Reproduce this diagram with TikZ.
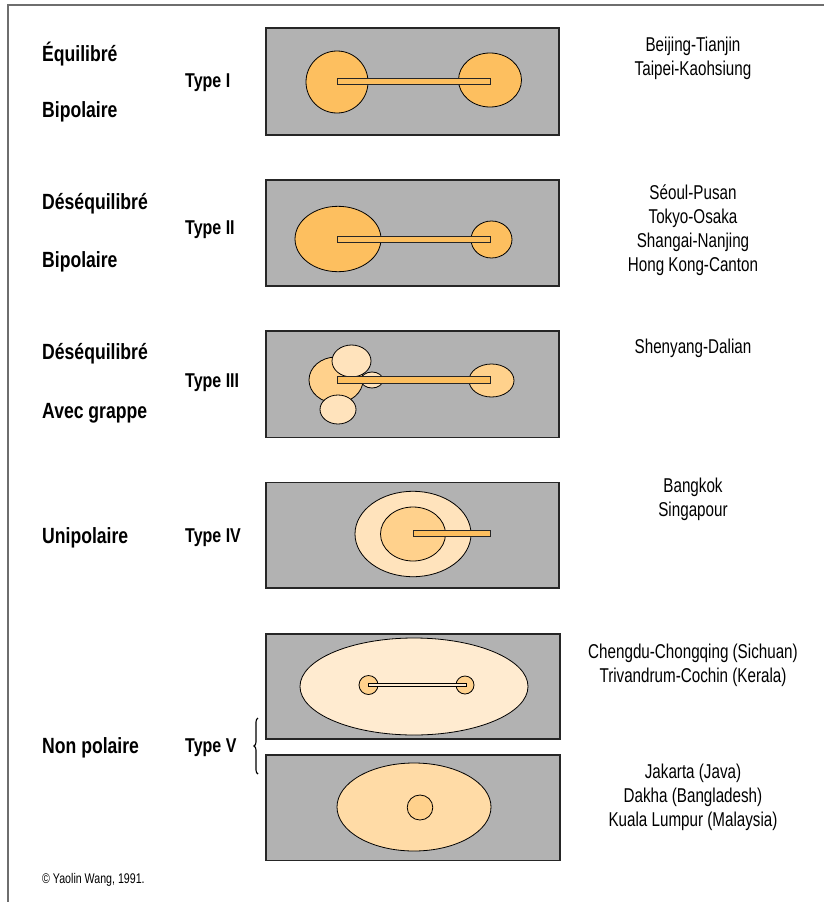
\documentclass[tikz,border=0pt]{standalone}
\usepackage{fontspec}
\setmainfont{Liberation Sans}[FakeStretch=0.76, BoldFeatures={FakeStretch=0.8}]
\usetikzlibrary{decorations.pathreplacing}
\definecolor{panelgray}{HTML}{B2B2B2}
\definecolor{orangeA}{HTML}{FDBF5F}
\definecolor{orangeB}{HTML}{FFD18C}
\definecolor{orangeC}{HTML}{FFE3BC}
\definecolor{orangeD}{HTML}{FFEBD0}
\definecolor{orangeE}{HTML}{FFDBA6}
\definecolor{framegray}{HTML}{6E6E6E}
\tikzset{
  panel/.style={draw=black!85, line width=1.1pt, fill=panelgray},
  blob/.style={draw=black, line width=0.8pt},
  barbox/.style={draw=black!85, line width=0.9pt, fill=orangeA},
  lbl/.style={font=\bfseries\fontsize{22}{24}\selectfont, anchor=base west, inner sep=0pt},
  typelbl/.style={font=\bfseries\fontsize{20}{22}\selectfont, anchor=base west, inner sep=0pt},
  city/.style={font=\fontsize{20}{22}\selectfont, anchor=base, inner sep=0pt},
}
\begin{document}
\begin{tikzpicture}[x=1pt,y=-1pt]
\useasboundingbox (0,0) rectangle (824,902);
\fill[white] (0,0) rectangle (824,902);
% frame
\draw[framegray, line width=1.3pt] (824,5) -- (8,5) -- (8,902);

% ---------- Type I
\draw[panel] (266,28) rectangle (559,135);
\draw[blob, fill=orangeA] (337,82) ellipse [x radius=31pt, y radius=31pt];
\draw[blob, fill=orangeA] (490,80) ellipse [x radius=31.5pt, y radius=27pt];
\draw[barbox] (337,78.7) rectangle (490,84.3);
\node[lbl] (l1a) at (42,61) {Équilibré};
\node[lbl] (l1b) at (42,117) {Bipolaire};
\node[typelbl] (t1) at (185,87) {Type I};
\node[city] (c1a) at (693,51) {Beijing-Tianjin};
\node[city] (c1b) at (693,75) {Taipei-Kaohsiung};

% ---------- Type II
\draw[panel] (266,180) rectangle (559,286);
\draw[blob, fill=orangeA] (338,239) ellipse [x radius=43pt, y radius=32.7pt];
\draw[blob, fill=orangeA] (491.5,239.5) ellipse [x radius=20.5pt, y radius=18.5pt];
\draw[barbox] (337,236) rectangle (490,242);
\node[lbl] (l2a) at (42,209) {Déséquilibré};
\node[lbl] (l2b) at (42,267) {Bipolaire};
\node[typelbl] (t2) at (185,234) {Type II};
\node[city] (c2a) at (693,199) {Séoul-Pusan};
\node[city] (c2b) at (693,223) {Tokyo-Osaka};
\node[city] (c2c) at (693,247) {Shangai-Nanjing};
\node[city] (c2d) at (693,271) {Hong Kong-Canton};

% ---------- Type III
\draw[panel] (266,331) rectangle (559,437.7);
\draw[blob, fill=orangeB] (336,380) ellipse [x radius=27pt, y radius=23pt];
\draw[blob, fill=orangeB] (491.5,380.5) ellipse [x radius=22.5pt, y radius=16.5pt];
\draw[blob, fill=orangeC] (351.5,361) ellipse [x radius=19.5pt, y radius=16pt];
\draw[blob, fill=orangeC] (372,380) ellipse [x radius=11pt, y radius=8pt];
\draw[blob, fill=orangeC] (338,409.5) ellipse [x radius=18pt, y radius=14.5pt];
\draw[barbox] (337,376.7) rectangle (490,383.3);
\node[lbl] (l3a) at (42,359) {Déséquilibré};
\node[lbl] (l3b) at (42,418) {Avec grappe};
\node[typelbl] (t3) at (185,387) {Type III};
\node[city] (c3a) at (693,353) {Shenyang-Dalian};

% ---------- Type IV
\draw[panel] (266,482.7) rectangle (559,588);
\draw[blob, fill=orangeC] (413,534) ellipse [x radius=58pt, y radius=42.7pt];
\draw[blob, fill=orangeB] (413,534) ellipse [x radius=32.5pt, y radius=27pt];
\draw[barbox] (413,530.7) rectangle (490,536.7);
\node[lbl] (l4a) at (42,543) {Unipolaire};
\node[typelbl] (t4) at (185,542) {Type IV};
\node[city] (c4a) at (693,492) {Bangkok};
\node[city] (c4b) at (693,516) {Singapour};

% ---------- Type V (a)
\draw[panel] (266,634) rectangle (560,739);
\draw[blob, fill=orangeD] (414,686.5) ellipse [x radius=114pt, y radius=48.5pt];
\draw[blob, fill=orangeB] (368.5,685) ellipse [x radius=9.5pt, y radius=9.5pt];
\draw[blob, fill=orangeB] (465,685) ellipse [x radius=9pt, y radius=9pt];
\draw[blob, fill=orangeD, line width=0.8pt] (368,683.3) rectangle (466,686.7);
\node[city] (c5a) at (693,658) {Chengdu-Chongqing (Sichuan)};
\node[city] (c5b) at (693,682) {Trivandrum-Cochin (Kerala)};

% ---------- Type V (b)
\draw[panel] (266,755) rectangle (560,860.7);
\draw[blob, fill=orangeE] (414,807) ellipse [x radius=77pt, y radius=44pt];
\draw[blob, fill=orangeB] (420,807.5) ellipse [x radius=12.8pt, y radius=12.5pt];
\node[city] (c6a) at (693,778) {Jakarta (Java)};
\node[city] (c6b) at (693,802) {Dakha (Bangladesh)};
\node[city] (c6c) at (693,826) {Kuala Lumpur (Malaysia)};

\node[lbl] (l5a) at (42,753) {Non polaire};
\node[typelbl] (t5) at (185,752) {Type V};
\draw[decorate, decoration={brace, amplitude=4pt}, line width=1.1pt] (258,774) -- (258,718);

\node[font=\fontsize{14}{16}\selectfont, anchor=base west, inner sep=0pt] (copy) at (42,883) {© Yaolin Wang, 1991.};
\end{tikzpicture}
\end{document}
